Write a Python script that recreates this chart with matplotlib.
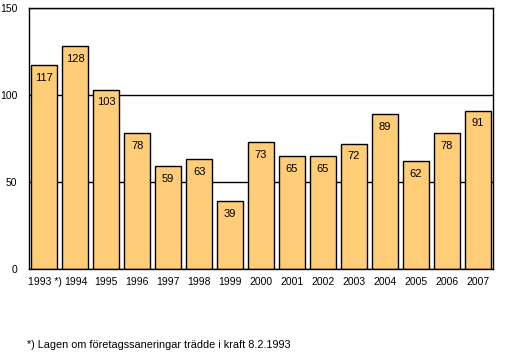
import matplotlib
matplotlib.use("Agg")
import matplotlib.pyplot as plt
from matplotlib.transforms import offset_copy

plt.rcParams["font.family"] = ["Liberation Sans", "DejaVu Sans"]

years = ["1993 *)", "1994", "1995", "1996", "1997", "1998", "1999", "2000",
         "2001", "2002", "2003", "2004", "2005", "2006", "2007"]
values = [117, 128, 103, 78, 59, 63, 39, 73, 65, 65, 72, 89, 62, 78, 91]

bar_color = "#FFCC77"

fig = plt.figure(figsize=(5.19, 3.54), dpi=100)
ax = fig.add_axes([29 / 519, 1 - 269 / 354, 464 / 519, 261 / 354])

x = range(len(values))
ax.bar(x, values, width=0.84, color=bar_color, edgecolor="black", linewidth=1, zorder=2)

for xi, v in zip(x, values):
    ax.annotate(str(v), (xi, v), xytext=(0, -5.5), textcoords="offset points",
                ha="center", va="top", fontsize=8, zorder=3)

ax.set_xlim(-0.5, len(values) - 0.5)
ax.set_ylim(0, 150)
ax.set_yticks([0, 50, 100, 150])
ax.yaxis.grid(True, color="black", linewidth=1, zorder=1)
ax.set_axisbelow(True)
ax.tick_params(length=0, labelsize=7.5)
ax.tick_params(axis="y", pad=8.5)
ax.tick_params(axis="x", pad=6)
ax.set_xticks(list(x))
ax.set_xticklabels([""] + years[1:])

# first label starts at the left edge of the axes
first_tr = offset_copy(ax.get_xaxis_transform(), fig=fig, x=-1, y=-6, units="points")
ax.text(-0.5, 0, years[0], ha="left", va="top", fontsize=7.5, transform=first_tr)

for s in ax.spines.values():
    s.set_color("black")
    s.set_linewidth(1)

fig.text(27 / 519, 1 - 345 / 354, "*) Lagen om företagssaneringar trädde i kraft 8.2.1993",
         fontsize=7.8, va="center", ha="left")

fig.savefig("out.png", dpi=100)
